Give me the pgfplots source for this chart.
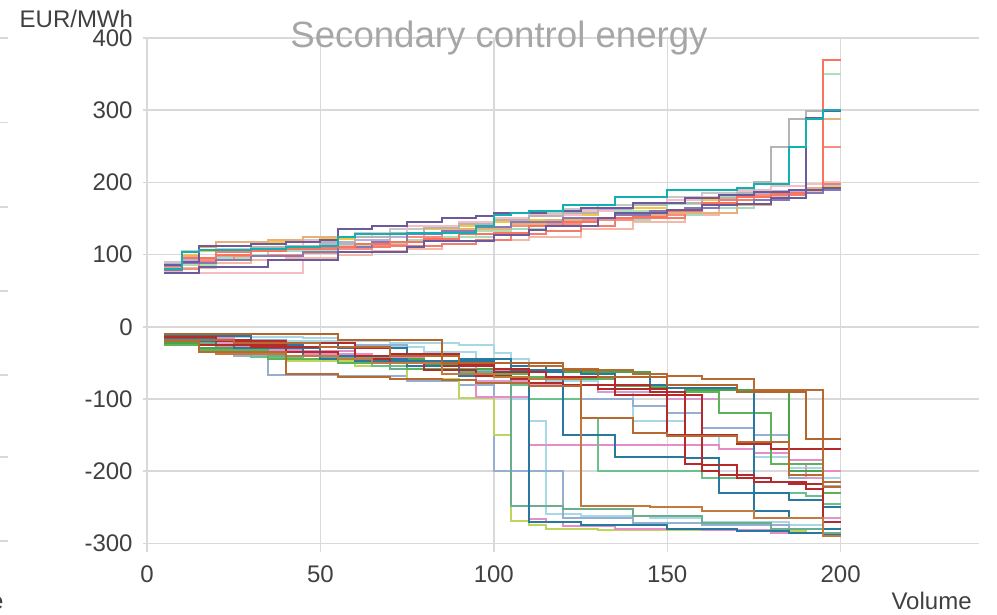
\documentclass[border=0pt]{standalone}
\usepackage{fontspec}
\setmainfont{Liberation Sans}
\usepackage{pgfplots}
\pgfplotsset{compat=1.18}

\definecolor{gridgray}{HTML}{D9D9D9}
\definecolor{txtgray}{HTML}{404040}
\definecolor{titlegray}{HTML}{A6A6A6}
% upper bundle
\definecolor{uteal}{HTML}{12B0B0}
\definecolor{upurple}{HTML}{6B5A9C}
\definecolor{upurple3}{HTML}{8A78B4}
\definecolor{ulav}{HTML}{BCAED6}
\definecolor{ugray}{HTML}{B4B4B4}
\definecolor{ugray2}{HTML}{C8C8C8}
\definecolor{usalmon}{HTML}{F9735F}
\definecolor{usalmon2}{HTML}{F68E7E}
\definecolor{usalmon3}{HTML}{F47C6C}
\definecolor{ulgreen}{HTML}{AEE0B5}
\definecolor{umint}{HTML}{A3DCC5}
\definecolor{upink}{HTML}{F7BCC6}
\definecolor{upeach}{HTML}{F4B9A6}
\definecolor{uyellow}{HTML}{F5C63E}
\definecolor{utan}{HTML}{E6B07A}
% lower bundle
\definecolor{lbrownA}{HTML}{B5652A}
\definecolor{lbrownB}{HTML}{C47A3C}
\definecolor{lbrownC}{HTML}{B86A30}
\definecolor{lred}{HTML}{B52A2A}
\definecolor{lsteel}{HTML}{2878A0}
\definecolor{lgreen}{HTML}{4CA24A}
\definecolor{lgreen2}{HTML}{5CB35A}
\definecolor{lmint}{HTML}{6CC08C}
\definecolor{lmintd}{HTML}{6AAE8E}
\definecolor{lpink}{HTML}{E88CC8}
\definecolor{lpink3}{HTML}{D99AD0}
\definecolor{lygreen}{HTML}{BCD65C}
\definecolor{llblue}{HTML}{A8D8E6}
\definecolor{lbgray}{HTML}{94AFD2}

\pgfplotsset{step/.style={const plot, no marks, line width=1pt}}

\begin{document}
\begin{tikzpicture}
\useasboundingbox (-73.5pt,-31.5pt) rectangle (425pt,276pt);
\begin{axis}[
    scale only axis,
    width=416.2pt, height=257pt,
    xmin=0, xmax=240, ymin=-312, ymax=400,
    xtick={0,50,...,200},
    ytick={-300,-200,...,400},
    grid=major,
    major grid style={gridgray, line width=0.75pt},
    axis lines=left,
    axis line style={-},
    x axis line style={draw=none},
    y axis line style={gridgray, line width=0.75pt},
    xtick style={draw=none},
    ytick style={gridgray, line width=0.75pt},
    tick align=outside,
    major tick length=2pt,
    tick label style={font=\fontsize{12pt}{14pt}\selectfont, text=txtgray,
      /pgf/number format/assume math mode=true},
    xticklabel style={anchor=north, inner sep=0pt, yshift=-4.5pt},
    yticklabel style={anchor=east, inner sep=0pt, xshift=-5pt},
    clip=false,
]

% ---- upper bundle
\addplot[step, upeach] coordinates {(5,76)(10,82)(20,88)(30,92)(40,95)(55,100)(65,105)(75,108)(85,115)(95,120)(110,125)(125,135)(140,145)(155,155)(165,170)(175,180)(185,188)(195,198)(200,198)};
\addplot[step, umint] coordinates {(5,80)(15,95)(25,100)(35,105)(50,108)(60,115)(75,120)(90,125)(100,135)(115,140)(130,148)(145,155)(160,165)(175,175)(185,185)(195,195)(200,195)};
\addplot[step, ulav] coordinates {(5,88)(10,92)(20,98)(30,105)(40,110)(50,115)(60,120)(70,125)(80,135)(90,140)(100,148)(110,155)(120,160)(130,162)(140,168)(150,172)(160,180)(170,185)(180,188)(190,190)(195,192)(200,192)};
\addplot[step, ugray2] coordinates {(5,90)(10,105)(20,108)(30,115)(40,120)(50,125)(60,130)(70,135)(80,140)(90,145)(100,150)(110,158)(120,163)(130,168)(140,172)(150,180)(160,185)(170,190)(180,195)(190,198)(195,200)(200,200)};
\addplot[step, uyellow] coordinates {(5,85)(10,100)(15,105)(20,117)(30,118)(50,122)(60,125)(65,130)(80,135)(90,140)(100,145)(110,148)(120,155)(130,160)(140,165)(150,170)(160,175)(170,180)(180,185)(190,190)(195,193)(200,193)};
\addplot[step, upink] coordinates {(5,74)(45,119)(55,125)(65,130)(75,140)(90,145)(100,150)(110,155)(125,160)(140,170)(150,175)(160,180)(170,188)(180,195)(190,198)(195,200)(200,200)};
\addplot[step, ulgreen] coordinates {(5,78)(10,85)(20,95)(30,100)(45,105)(55,112)(70,118)(80,125)(95,133)(105,140)(120,150)(135,160)(150,170)(165,180)(180,185)(190,190)(195,350)(200,350)};
\addplot[step, usalmon2] coordinates {(5,80)(15,92)(25,98)(35,100)(45,102)(55,108)(65,113)(75,125)(85,130)(95,135)(105,140)(115,143)(125,148)(140,155)(155,165)(165,175)(175,182)(185,190)(195,249)(200,249)};
\addplot[step, usalmon3] coordinates {(5,82)(10,90)(20,103)(30,106)(40,108)(55,110)(70,112)(85,115)(95,120)(105,128)(115,133)(125,140)(135,150)(155,165)(165,175)(180,182)(190,190)(195,198)(200,198)};
\addplot[step, utan] coordinates {(5,78)(10,98)(15,110)(20,118)(35,120)(45,125)(60,128)(75,130)(90,135)(105,142)(115,148)(125,150)(135,155)(150,158)(170,168)(180,179)(190,192)(195,288)(200,288)};
\addplot[step, upurple3] coordinates {(5,78)(10,88)(20,92)(30,98)(45,104)(55,110)(65,118)(75,128)(85,133)(95,138)(105,145)(120,150)(135,155)(145,160)(155,165)(165,170)(175,175)(185,185)(195,190)(200,190)};
\addplot[step, ugray] coordinates {(5,82)(10,95)(20,100)(30,110)(40,112)(50,118)(60,125)(70,130)(80,137)(90,142)(100,148)(110,153)(120,158)(130,165)(140,168)(150,172)(160,178)(170,185)(175,200)(180,249)(185,288)(190,299)(200,299)};
\addplot[step, usalmon] coordinates {(5,84)(10,95)(20,100)(30,105)(40,108)(50,110)(60,115)(70,118)(80,122)(90,128)(100,130)(110,140)(120,145)(130,150)(140,152)(150,160)(160,172)(170,180)(180,185)(190,190)(195,370)(200,370)};
\addplot[step, upurple] coordinates {(5,75)(15,83)(35,93)(55,103)(75,110)(80,119)(100,127)(110,134)(115,140)(130,150)(135,158)(150,162)(160,168)(170,170)(180,178)(190,289)(195,299)(200,299)};
\addplot[step, upurple] coordinates {(5,86)(10,90)(15,112)(30,114)(40,118)(50,120)(55,136)(65,140)(75,145)(85,150)(95,153)(100,157)(115,160)(125,165)(140,172)(155,178)(165,182)(175,186)(185,190)(195,192)(200,192)};
\addplot[step, uteal] coordinates {(5,80)(10,104)(15,106)(30,108)(40,110)(50,112)(55,125)(60,128)(75,130)(95,140)(100,155)(105,158)(110,160)(120,169)(135,180)(150,189)(170,192)(175,198)(185,249)(190,288)(195,300)(200,300)};

% ---- lower bundle
\addplot[step, llblue] coordinates {(5,-12)(15,-14)(45,-16)(55,-20)(70,-22)(90,-25)(100,-36)(105,-45)(110,-60)(115,-75)(130,-90)(140,-130)(155,-150)(165,-170)(175,-180)(185,-195)(195,-210)(200,-210)};
\addplot[step, llblue] coordinates {(5,-14)(30,-20)(60,-28)(80,-35)(95,-45)(105,-100)(110,-130)(115,-260)(125,-262)(145,-265)(160,-270)(185,-275)(195,-280)(200,-280)};
\addplot[step, lbgray] coordinates {(5,-12)(15,-20)(25,-40)(35,-67)(55,-68)(75,-75)(90,-80)(100,-200)(120,-265)(140,-272)(160,-275)(185,-280)(195,-285)(200,-285)};
\addplot[step, lbgray] coordinates {(5,-13)(20,-18)(40,-22)(60,-25)(75,-40)(90,-60)(105,-70)(115,-80)(125,-100)(140,-110)(150,-120)(160,-140)(175,-150)(185,-210)(195,-220)(200,-220)};
\addplot[step, lygreen] coordinates {(5,-20)(20,-35)(40,-48)(60,-55)(75,-72)(90,-99)(100,-150)(105,-269)(110,-274)(115,-280)(130,-282)(175,-283)(190,-285)(200,-285)};
\addplot[step, lpink] coordinates {(5,-18)(20,-28)(30,-32)(45,-38)(65,-42)(80,-52)(90,-60)(95,-97)(110,-266)(115,-271)(120,-276)(135,-280)(160,-282)(180,-285)(195,-288)(200,-288)};
\addplot[step, lpink] coordinates {(5,-16)(25,-30)(40,-33)(60,-45)(80,-55)(100,-70)(110,-164)(165,-170)(175,-175)(185,-185)(195,-200)(200,-200)};
\addplot[step, lpink3] coordinates {(5,-17)(20,-22)(30,-35)(45,-40)(60,-48)(80,-55)(95,-75)(110,-80)(130,-90)(150,-100)(165,-120)(180,-190)(190,-210)(195,-265)(200,-265)};
\addplot[step, lmint] coordinates {(5,-24)(15,-35)(30,-42)(45,-45)(55,-50)(65,-55)(80,-60)(95,-62)(105,-80)(110,-100)(125,-126)(130,-200)(150,-200)(160,-210)(175,-230)(190,-235)(195,-245)(200,-245)};
\addplot[step, lmintd] coordinates {(5,-22)(20,-38)(35,-40)(50,-42)(70,-58)(90,-63)(105,-248)(120,-252)(140,-262)(160,-272)(180,-280)(195,-285)(200,-285)};
\addplot[step, lgreen] coordinates {(5,-23)(15,-30)(40,-40)(60,-45)(80,-52)(90,-58)(110,-60)(120,-62)(145,-85)(155,-87)(175,-90)(185,-200)(195,-270)(200,-270)};
\addplot[step, lgreen2] coordinates {(5,-25)(15,-32)(35,-45)(55,-50)(75,-58)(95,-65)(110,-70)(125,-72)(135,-82)(150,-90)(165,-120)(180,-190)(195,-230)(200,-230)};
\addplot[step, lsteel] coordinates {(5,-15)(20,-25)(45,-40)(60,-48)(100,-50)(105,-55)(115,-62)(120,-150)(135,-180)(155,-182)(165,-230)(175,-255)(185,-265)(195,-280)(200,-280)};
\addplot[step, lsteel] coordinates {(5,-13)(30,-22)(55,-30)(75,-38)(90,-45)(105,-60)(125,-65)(135,-70)(145,-80)(150,-85)(170,-90)(175,-230)(185,-240)(195,-250)(200,-250)};
\addplot[step, lsteel] coordinates {(5,-20)(25,-30)(50,-45)(75,-55)(90,-68)(105,-70)(110,-270)(125,-275)(150,-280)(170,-283)(185,-286)(195,-289)(200,-289)};
\addplot[step, lred] coordinates {(5,-14)(20,-20)(40,-22)(60,-30)(70,-38)(90,-52)(100,-58)(110,-78)(120,-80)(130,-86)(150,-150)(170,-163)(180,-170)(200,-170)};
\addplot[step, lred] coordinates {(5,-20)(15,-25)(40,-35)(55,-45)(70,-50)(80,-60)(95,-68)(105,-72)(125,-80)(145,-90)(155,-190)(160,-200)(165,-205)(175,-215)(185,-218)(195,-222)(200,-222)};
\addplot[step, lred] coordinates {(5,-18)(30,-28)(60,-40)(85,-55)(100,-62)(115,-70)(135,-95)(160,-192)(170,-210)(180,-215)(190,-225)(195,-270)(200,-270)};
\addplot[step, lbrownB] coordinates {(5,-20)(15,-35)(20,-38)(40,-40)(55,-45)(65,-50)(85,-65)(100,-70)(110,-72)(125,-248)(145,-250)(160,-255)(175,-265)(195,-290)(200,-290)};
\addplot[step, lbrownC] coordinates {(5,-20)(15,-35)(40,-65)(55,-70)(70,-72)(85,-74)(95,-78)(110,-82)(125,-126)(140,-147)(150,-152)(170,-160)(185,-205)(195,-222)(200,-222)};
\addplot[step, lbrownC] coordinates {(5,-19)(25,-22)(50,-28)(70,-40)(90,-50)(110,-55)(120,-58)(130,-60)(140,-66)(150,-68)(160,-72)(175,-88)(195,-215)(200,-215)};
\addplot[step, lbrownA] coordinates {(5,-10)(55,-18)(85,-50)(120,-60)(130,-69)(150,-80)(170,-90)(190,-156)(200,-156)};
\end{axis}

\node[anchor=base, font=\fontsize{18.3pt}{22pt}\selectfont, text=titlegray] at (176pt,252pt) {Secondary control energy};
\node[anchor=base east, inner sep=0pt, font=\fontsize{12pt}{14pt}\selectfont, text=txtgray] at (-6.8pt,262pt) {EUR/MWh};
\node[anchor=base east, inner sep=0pt, font=\fontsize{12pt}{14pt}\selectfont, text=txtgray] at (412.5pt,-29pt) {Volume};
% edge of the neighbouring chart
\node[anchor=base east, inner sep=0pt, font=\fontsize{12pt}{14pt}\selectfont, text=txtgray] at (-71.5pt,-29pt) {Volume};
\foreach \yy in {257,214.7,172.5,130.5,88.5,47.5,5.5}
  \draw[gridgray, line width=0.75pt] (-73.5pt,\yy pt) -- (-69.5pt,\yy pt);
\end{tikzpicture}
\end{document}
